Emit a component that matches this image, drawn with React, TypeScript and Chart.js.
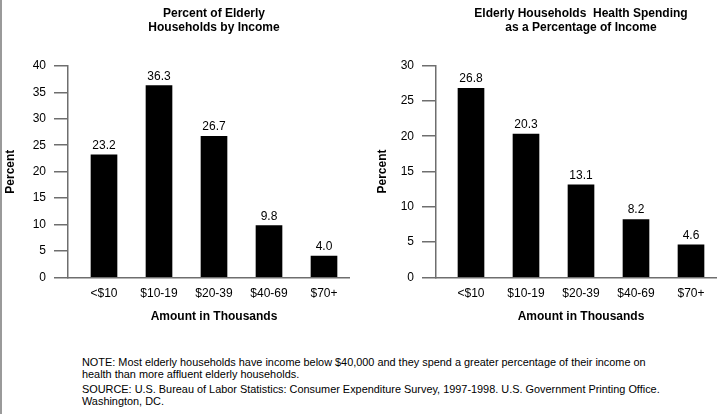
import React, { useEffect, useRef } from "react";
import { Chart, registerables } from "chart.js";

Chart.register(...registerables);

const categories = ["<$10", "$10-19", "$20-39", "$40-69", "$70+"];
const shareOfHouseholds = [23.2, 36.3, 26.7, 9.8, 4.0];
const healthSpendingShare = [26.8, 20.3, 13.1, 8.2, 4.6];
const leftTitle = ["Percent of Elderly", "Households by Income"];
const rightTitle = ["Elderly Households  Health Spending", "as a Percentage of Income"];
const yTitle = "Percent";
const xTitle = "Amount in Thousands";
const noteText = [
  "NOTE: Most elderly households have income below $40,000 and they spend a greater percentage of their income on",
  "health than more affluent elderly households.",
];
const sourceText = [
  "SOURCE: U.S. Bureau of Labor Statistics: Consumer Expenditure Survey, 1997-1998. U.S. Government Printing Office.",
  "Washington, DC.",
];

const FONT = "'Liberation Sans', Arial, Helvetica, sans-serif";
const AXIS_GRAY = "#6e6e6e";

type Cfg = {
  values: number[];
  title: string[];
  yMax: number;
  yWidth: number;
  xMin: number;
  xMax: number;
  padTop: number;
};

const labelsPlugin = {
  id: "valueLabels",
  afterDatasetsDraw(chart: any) {
    const ctx = chart.ctx;
    const meta = chart.getDatasetMeta(0);
    const data = chart.data.datasets[0].data as any[];
    ctx.save();
    ctx.font = `12px ${FONT}`;
    ctx.fillStyle = "#000";
    ctx.textAlign = "center";
    ctx.textBaseline = "alphabetic";
    meta.data.forEach((el: any, i: number) => {
      ctx.fillText(Number(data[i].y).toFixed(1), el.x, el.y - 6);
    });
    ctx.restore();
  },
};

const centerTitlePlugin = {
  id: "centerTitle",
  afterDraw(chart: any, _args: any, opts: any) {
    const ctx = chart.ctx;
    const xs = chart.scales.x;
    const cx = xs.getPixelForValue(2);
    ctx.save();
    ctx.font = `bold 12px ${FONT}`;
    ctx.fillStyle = "#000";
    ctx.textAlign = "center";
    ctx.textBaseline = "middle";
    (opts.lines || []).forEach((line: string, i: number) => {
      ctx.fillText(line, cx, 14 + i * 14);
    });
    ctx.fillText(opts.xTitle || "", cx, 316.7);
    ctx.restore();
  },
};

function BarPanel({ cfg, left, width }: { cfg: Cfg; left: number; width: number }) {
  const ref = useRef<HTMLCanvasElement | null>(null);
  useEffect(() => {
    if (!ref.current) return;
    const chart = new Chart(ref.current, {
      type: "bar",
      data: {
        datasets: [
          {
            data: cfg.values.map((v, i) => ({ x: i, y: v })),
            backgroundColor: "#000",
            borderWidth: 0,
            barThickness: 26,
          },
        ],
      },
      plugins: [labelsPlugin, centerTitlePlugin],
      options: {
        animation: false,
        responsive: false,
        maintainAspectRatio: false,
        layout: { padding: { top: cfg.padTop, left: 0, right: 0, bottom: 0 } },
        plugins: {
          legend: { display: false },
          title: { display: false },
          tooltip: { enabled: false },
          centerTitle: { lines: cfg.title, xTitle },
        } as any,
        scales: {
          x: {
            type: "linear",
            offset: false,
            min: cfg.xMin,
            max: cfg.xMax,
            afterBuildTicks: (s: any) => {
              s.ticks = categories.map((_, i) => ({ value: i }));
            },
            afterFit: (s: any) => {
              s.height = 340 - 277.3;
            },
            ticks: {
              autoSkip: false,
              maxRotation: 0,
              padding: 1,
              color: "#000",
              font: { family: FONT, size: 12 },
              callback: (v: any) => categories[Math.round(Number(v))] ?? "",
            },
            grid: { display: false, offset: false },
            border: { display: true, color: AXIS_GRAY, width: 1.5 },
          },
          y: {
            min: 0,
            max: cfg.yMax,
            afterFit: (s: any) => {
              s.width = cfg.yWidth;
            },
            ticks: {
              stepSize: 5,
              padding: 8,
              color: "#000",
              font: { family: FONT, size: 12 },
            },
            grid: {
              drawOnChartArea: false,
              drawTicks: true,
              tickLength: 14,
              color: AXIS_GRAY,
              lineWidth: 1.5,
            },
            border: { display: true, color: AXIS_GRAY, width: 1.5 },
            title: {
              display: true,
              text: yTitle,
              color: "#000",
              font: { family: FONT, size: 12, weight: "bold" },
              padding: { top: 3, bottom: 0 },
            },
          },
        },
      } as any,
    });
    return () => chart.destroy();
  }, []);
  return (
    <canvas
      ref={ref}
      width={width}
      height={340}
      style={{ position: "absolute", left, top: 0, width, height: 340 }}
    />
  );
}

export default function App() {
  const leftCfg: Cfg = {
    values: shareOfHouseholds,
    title: leftTitle,
    yMax: 40,
    yWidth: 68,
    xMin: (68 - 104) / 55,
    xMax: (68 - 104) / 55 + 282 / 55,
    padTop: 66,
  };
  const rightCfg: Cfg = {
    values: healthSpendingShare,
    title: rightTitle,
    yMax: 30,
    yWidth: 64,
    xMin: (436 - 471) / 55,
    xMax: (436 - 471) / 55 + 281 / 55,
    padTop: 65.7,
  };
  const textStyle: React.CSSProperties = {
    position: "absolute",
    left: 82,
    fontFamily: FONT,
    fontSize: "10.9px",
    lineHeight: "12px",
    color: "#000",
    whiteSpace: "nowrap",
  };
  return (
    <div
      style={{
        position: "absolute",
        left: 0,
        top: 0,
        width: 720,
        height: 414,
        background: "#fff",
        overflow: "hidden",
      }}
    >
      <div
        style={{ position: "absolute", left: 0, top: 0, width: 2, height: 414, background: "#9a9a9a" }}
      />
      <BarPanel cfg={leftCfg} left={0} width={350} />
      <BarPanel cfg={rightCfg} left={372} width={345} />
      <div style={{ ...textStyle, top: 355.5 }}>
        {noteText.map((t, i) => (
          <div key={i}>{t}</div>
        ))}
      </div>
      <div style={{ ...textStyle, top: 383 }}>
        {sourceText.map((t, i) => (
          <div key={i}>{t}</div>
        ))}
      </div>
    </div>
  );
}
